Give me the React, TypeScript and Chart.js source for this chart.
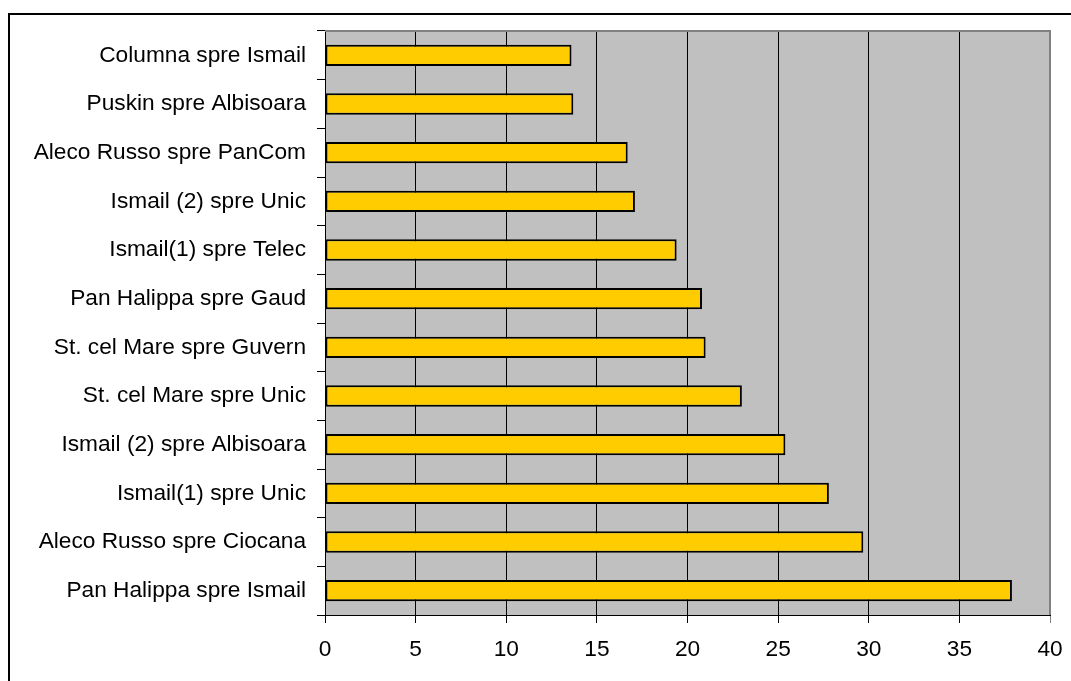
import React, { useEffect, useRef } from "react";
import { Chart, registerables } from "chart.js";

Chart.register(...registerables);

// Street segments, listed top to bottom
const categories = [
  "Columna spre Ismail",
  "Puskin spre Albisoara",
  "Aleco Russo spre PanCom",
  "Ismail (2) spre Unic",
  "Ismail(1) spre Telec",
  "Pan Halippa spre Gaud",
  "St. cel Mare spre Guvern",
  "St. cel Mare spre Unic",
  "Ismail (2) spre Albisoara",
  "Ismail(1) spre Unic",
  "Aleco Russo spre Ciocana",
  "Pan Halippa spre Ismail",
];

const values = [13.6, 13.7, 16.7, 17.1, 19.4, 20.8, 21.0, 23.0, 25.4, 27.8, 29.7, 37.9];

const xMin = 0;
const xMax = 40;
const xStep = 5;

const FONT = "'Liberation Sans', Arial, Helvetica, sans-serif";

// Gray plot background with a darker gray frame on top and right
const plotFrame = {
  id: "plotFrame",
  beforeDraw(chart: any) {
    const { ctx, chartArea: a } = chart;
    ctx.save();
    ctx.fillStyle = "#C0C0C0";
    ctx.fillRect(a.left, a.top, a.right - a.left, a.bottom - a.top);
    ctx.restore();
  },
  beforeDatasetsDraw(chart: any) {
    const { ctx, chartArea: a } = chart;
    ctx.save();
    ctx.strokeStyle = "#808080";
    ctx.lineWidth = 2;
    ctx.beginPath();
    ctx.moveTo(a.left, a.top);
    ctx.lineTo(a.right, a.top);
    ctx.lineTo(a.right, a.bottom);
    ctx.stroke();
    ctx.restore();
  },
};

export default function App() {
  const canvasRef = useRef<HTMLCanvasElement | null>(null);

  useEffect(() => {
    if (!canvasRef.current) return;
    const chart = new Chart(canvasRef.current, {
      type: "bar",
      data: {
        labels: categories,
        datasets: [
          {
            data: values,
            backgroundColor: "#FFCC00",
            borderColor: "#000000",
            borderWidth: 2,
            borderSkipped: false,
            categoryPercentage: 1,
            barPercentage: 0.44,
          },
        ],
      },
      options: {
        indexAxis: "y",
        responsive: false,
        animation: false,
        devicePixelRatio: 1,
        layout: { padding: { left: 0, right: 21, top: 31, bottom: 0 } },
        plugins: {
          legend: { display: false },
          tooltip: { enabled: false },
        },
        scales: {
          x: {
            min: xMin,
            max: xMax,
            ticks: {
              stepSize: xStep,
              color: "#000",
              padding: 13,
              font: { family: FONT, size: 22.7 },
            },
            grid: {
              color: (c: any) => (c.tick && c.tick.value === xMax ? "#808080" : "#000"),
              lineWidth: 1,
              tickLength: 8,
            },
            border: { color: "#000", width: 1 },
            afterFit(scale: any) {
              scale.height = 66;
              scale.paddingLeft = 0;
              scale.paddingRight = 0;
            },
          },
          y: {
            ticks: {
              color: "#000",
              padding: 11,
              font: { family: FONT, size: 22.7 },
            },
            grid: {
              offset: true,
              drawOnChartArea: false,
              color: "#000",
              tickLength: 8,
            },
            border: { color: "#000", width: 1 },
            afterFit(scale: any) {
              scale.width = 325;
              scale.paddingTop = 0;
              scale.paddingBottom = 0;
            },
          },
        },
      },
      plugins: [plotFrame],
    });
    return () => chart.destroy();
  }, []);

  return (
    <div
      style={{
        position: "fixed",
        left: 0,
        top: 0,
        width: 1071,
        height: 681,
        overflow: "hidden",
        background: "#fff",
      }}
    >
      <div
        style={{
          position: "absolute",
          left: 8,
          top: 13,
          width: 1200,
          height: 800,
          borderLeft: "2px solid #000",
          borderTop: "2px solid #000",
        }}
      />
      <canvas
        ref={canvasRef}
        width={1071}
        height={681}
        style={{ position: "absolute", left: 0, top: 0, width: 1071, height: 681 }}
      />
    </div>
  );
}
